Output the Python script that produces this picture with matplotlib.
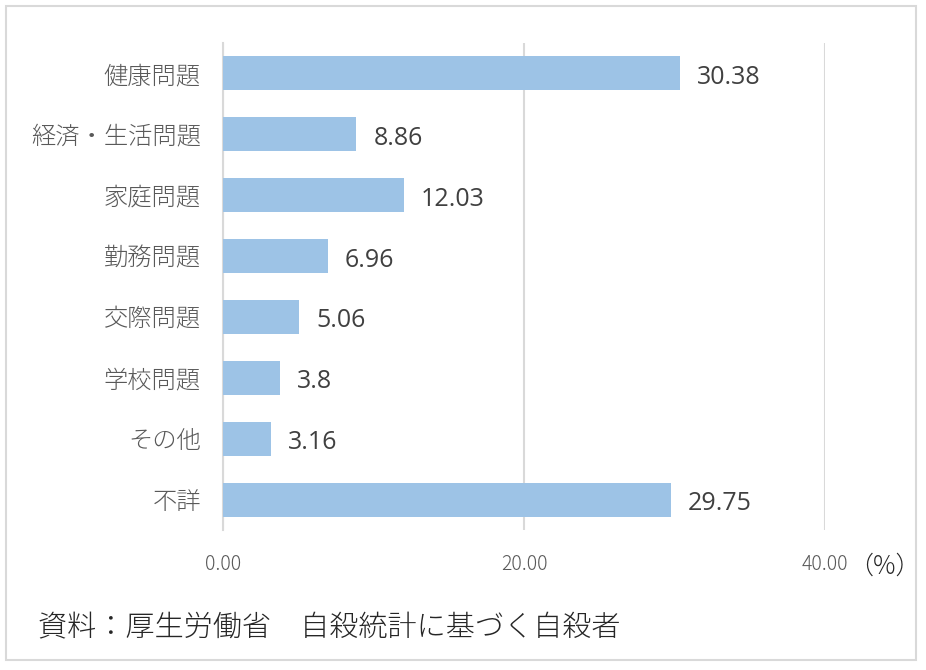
import matplotlib
matplotlib.use("Agg")
import matplotlib.pyplot as plt
from matplotlib.patches import Rectangle

plt.rcParams['font.family'] = ['Noto Sans CJK JP', 'DejaVu Sans']

categories = ["健康問題", "経済・生活問題", "家庭問題", "勤務問題", "交際問題", "学校問題", "その他", "不詳"]
values = [30.38, 8.86, 12.03, 6.96, 5.06, 3.8, 3.16, 29.75]
value_labels = ["30.38", "8.86", "12.03", "6.96", "5.06", "3.8", "3.16", "29.75"]
x_ticks = [0, 20, 40]
x_tick_labels = ["0.00", "20.00", "40.00"]
unit_label = "（%）"
source_text = "資料：厚生労働省　自殺統計に基づく自殺者"

fig = plt.figure(figsize=(9.26, 6.70), dpi=100)
fig.patches.append(Rectangle((6 / 926, 10 / 670), 910 / 926, 654 / 670,
                             transform=fig.transFigure, fill=False,
                             edgecolor="#D9D9D9", linewidth=1.5))

ax = fig.add_axes([223 / 926, 140 / 670, (825 - 223) / 926, (627 - 140) / 670])
ypos = list(range(len(categories)))
ax.barh(ypos, values, height=0.56, color="#9DC3E6", zorder=3)
ax.set_ylim(len(categories) - 0.5, -0.5)
ax.set_xlim(0, 40)

for y, v, lab in zip(ypos, values, value_labels):
    ax.annotate(lab, (v, y), xytext=(17, -4), textcoords="offset pixels",
                va="center", ha="left", fontsize=18, color="#404040",
                family=["Open Sans", "DejaVu Sans"])

ax.set_yticks(ypos)
ax.set_yticklabels(categories, fontsize=17.5, color="#595959", fontweight="light")
ax.set_xticks(x_ticks)
ax.set_xticklabels(x_tick_labels, fontsize=14, color="#595959", fontweight="light")
ax.tick_params(axis="y", length=0, pad=16)
ax.tick_params(axis="x", length=0, pad=17)
ax.grid(axis="x", color="#D9D9D9", linewidth=1.5, zorder=0)
for s in ["top", "right", "bottom"]:
    ax.spines[s].set_visible(False)
ax.spines["left"].set_color("#D9D9D9")
ax.spines["left"].set_linewidth(1.5)

fig.text(848 / 926, 1 - 566 / 670, unit_label, fontsize=18, color="#262626",
         va="center", ha="left", fontweight="light")
fig.text(38 / 926, 1 - 628 / 670, source_text, fontsize=21, color="#262626",
         va="center", ha="left", fontweight="light")

fig.savefig("out.png", dpi=100)
